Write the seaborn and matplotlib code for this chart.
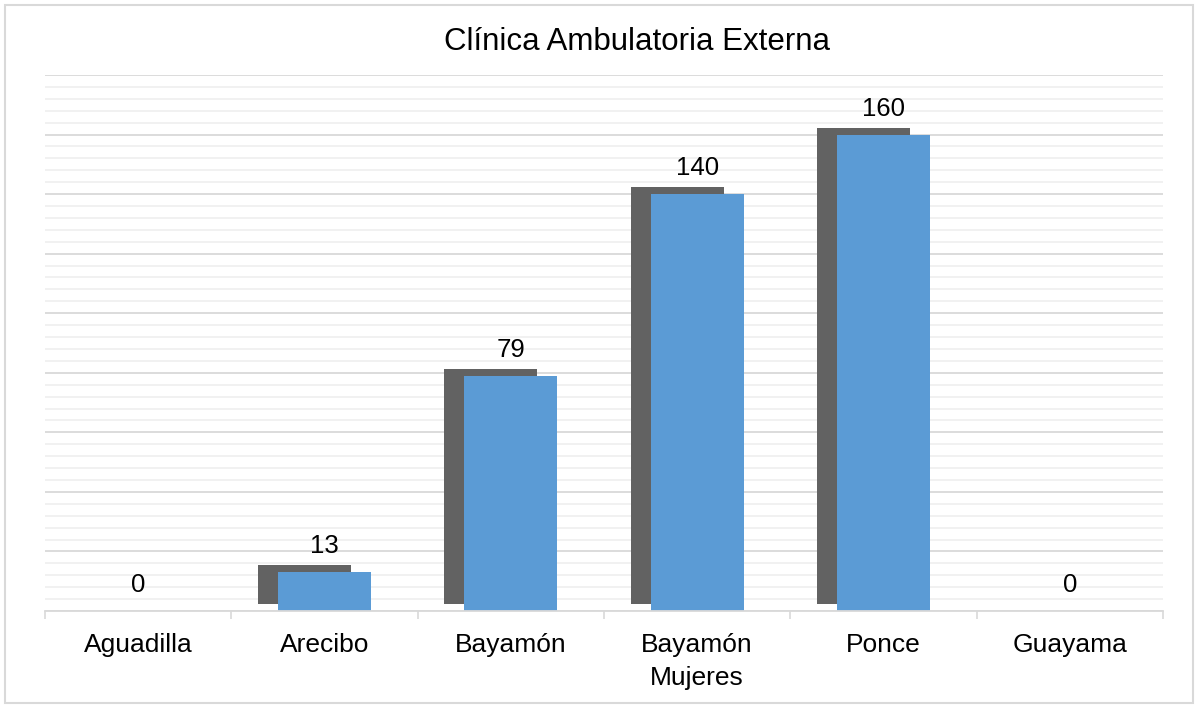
import matplotlib
matplotlib.use("Agg")
import matplotlib.pyplot as plt
import matplotlib.patheffects as pe
from matplotlib.patches import Rectangle
import seaborn as sns
import numpy as np

categories = ["Aguadilla", "Arecibo", "Bayamón", "Bayamón\nMujeres", "Ponce", "Guayama"]
values = [0, 13, 79, 140, 160, 0]
title = "Clínica Ambulatoria Externa"

sns.set_theme(style="white")
plt.rcParams["font.family"] = ["Liberation Sans", "DejaVu Sans"]

fig = plt.figure(figsize=(11.98, 7.08), dpi=100)
ax = fig.add_axes([45/1198, 1-611/708, (1163-45)/1198, (611-75)/708])

sns.barplot(x=categories, y=values, color="#5B9BD5", saturation=1, width=0.5, ax=ax,
            linewidth=0, edgecolor="none")

for p in ax.patches:
    p.set_path_effects([
        pe.SimplePatchShadow(offset=(-14.4, 5.0), shadow_rgbFace="#626262", alpha=1.0),
        pe.Normal(),
    ])

ax.set_xlim(-0.5, 5.5)
ax.set_ylim(0, 180)
ax.set_yticks(np.arange(0, 181, 20))
ax.set_yticks(np.arange(0, 181, 4), minor=True)
ax.yaxis.grid(True, which="major", color="#d9d9d9", linewidth=1.3)
ax.yaxis.grid(True, which="minor", color="#f0f0f0", linewidth=1.3)
ax.set_axisbelow(True)
ax.tick_params(axis="y", which="both", left=False, labelleft=False)

ax.set_xticks(np.arange(-0.5, 6, 1), minor=True)
ax.tick_params(axis="x", which="minor", bottom=True, length=6, width=1.2, color="#d9d9d9", direction="out")
ax.tick_params(axis="x", which="major", bottom=False, length=0, pad=16, labelsize=19, labelcolor="#000000")
for lbl in ax.get_xticklabels():
    lbl.set_linespacing(1.45)

for s in ["left", "right", "top"]:
    ax.spines[s].set_visible(False)
ax.spines["bottom"].set_color("#d9d9d9")
ax.spines["bottom"].set_linewidth(1.3)
ax.set_xlabel("")
ax.set_ylabel("")

for i, v in enumerate(values):
    ax.annotate(str(v), xy=(i, v), xytext=(0, 10), textcoords="offset points",
                ha="center", va="bottom", fontsize=18.5, color="#000000")

fig.text(637/1198, 1-42/708, title, ha="center", va="center", fontsize=22.5, color="#000000")

fig.patches.append(Rectangle((5/1198, 5/708), 1188/1198, 698/708, transform=fig.transFigure,
                             fill=False, edgecolor="#d9d9d9", linewidth=1.5))

fig.savefig("out.png", dpi=100)
